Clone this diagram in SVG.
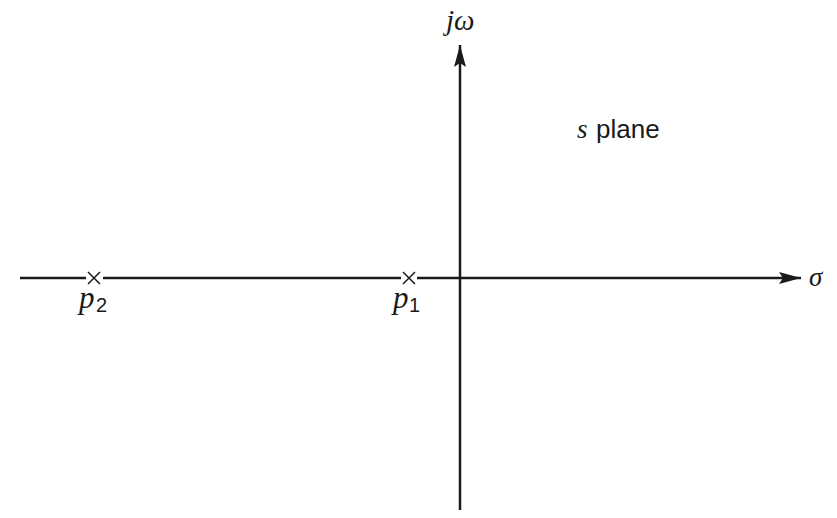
<svg xmlns="http://www.w3.org/2000/svg" width="837" height="518" viewBox="0 0 837 518">
<defs>
<marker id="ah" viewBox="0 0 22 12" refX="22" refY="6" markerWidth="22" markerHeight="12" markerUnits="userSpaceOnUse" orient="auto">
<path d="M0,0 L22,6 L0,12 L4,6 Z" fill="#1a1a1a"/>
</marker>
<style>
.ax{stroke:#1a1a1a;stroke-width:2.5;fill:none}
.x{stroke:#1a1a1a;stroke-width:1.5;fill:none}
.it{font-family:"Liberation Serif",serif;font-style:italic;fill:#1a1a1a}
.sf{font-family:"Liberation Sans",sans-serif;font-style:normal;fill:#1a1a1a}
</style>
</defs>
<rect width="837" height="518" fill="#fff"/>
<g id="connectors">
<path class="ax" d="M20,278 H86 M103,278 H401 M417,278 H801" marker-end="url(#ah)"/>
<path class="ax" d="M460,510 V45" marker-end="url(#ah)"/>
</g>
<g id="p2">
<path class="x" d="M88,272 L100,284 M100,272 L88,284"/>
<text class="it" x="79" y="308" font-size="31">p</text>
<text class="sf" x="96" y="312" font-size="20">2</text>
</g>
<g id="p1">
<path class="x" d="M403,272 L415,284 M415,272 L403,284"/>
<text class="it" x="393" y="308" font-size="31">p</text>
<text class="sf" x="409" y="312" font-size="20">1</text>
</g>
<g id="labels">
<text class="it" x="446" y="30" font-size="29">jω</text>
<text class="it" x="809" y="286" font-size="27">σ</text>
<text class="it" x="577" y="138" font-size="27">s</text>
<text class="sf" x="596" y="138" font-size="26">plane</text>
</g>
</svg>
